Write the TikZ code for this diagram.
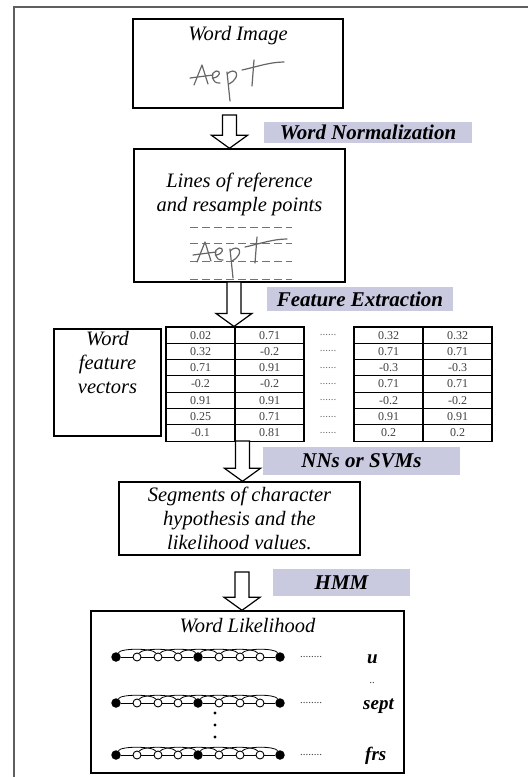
\documentclass[tikz,border=0pt]{standalone}
\usepackage{fontspec}
\setmainfont{Liberation Serif}
\usetikzlibrary{positioning, calc}

\definecolor{steplav}{RGB}{201,201,224}
\definecolor{framegray}{RGB}{95,95,95}

\tikzset{
  box/.style={draw, line width=1.4pt, inner sep=0pt},
  caption/.style={font=\fontsize{20.5}{24}\selectfont\itshape, inner sep=1pt, align=center},
  stagelabel/.style={fill=steplav, font=\fontsize{21}{24}\selectfont\bfseries\itshape, inner sep=0pt},
  cell/.style={draw, line width=1.1pt, minimum width=69pt, minimum height=16.3pt,
    inner sep=0pt, font=\fontsize{12}{13}\selectfont, text=black!75},
  gap/.style={font=\fontsize{11}{12}\selectfont, text=black!55, inner sep=1pt},
  wordlab/.style={font=\fontsize{19}{22}\selectfont\bfseries\itshape, inner sep=0pt},
  hmmstate/.style={circle, fill=black, minimum size=9.5pt, inner sep=0pt},
  hmmhid/.style={circle, draw, line width=0.9pt, fill=white, minimum size=8pt, inner sep=0pt},
  hmmedge/.style={line width=0.8pt},
  blockarrow/.style={draw, line width=1.2pt, fill=white},
  ink/.style={line width=1.2pt, black!60, line cap=round, line join=round},
  guide/.style={line width=0.9pt, black!55, dash pattern=on 8pt off 4pt},
  % handwritten word
  scrawl/.pic={
    \draw[ink] (-44,10) -- (-36,-10) -- (-30,9);
    \draw[ink] (-48,3) -- (-25,0);
    \draw[ink] (-25,3) .. controls (-17,2) and (-17,-5) .. (-22,-4)
      .. controls (-28,-3) and (-27,9) .. (-18,8);
    \draw[ink] (-11,-3) -- (-8,26);
    \draw[ink] (-11,-1) .. controls (-3,-9) and (5,1) .. (-9,9);
    \draw[ink] (16,-15) -- (14,11);
    \draw[ink] (4,-5) .. controls (18,-8) and (32,-13) .. (46,-13);
  },
  % left-to-right model chain
  chain/.pic={
    \foreach \i/\x in {0/0,4/82,8/164}
      \node[hmmstate] (-s\i) at (\x,0) {};
    \foreach \i/\x in {1/21,2/42,3/62,5/103,6/124,7/144}
      \node[hmmhid] (-s\i) at (\x,0) {};
    \foreach \a [evaluate=\a as \b using int(\a+1)] in {0,...,7}
      \draw[hmmedge] (-s\a) -- (-s\b);
    \foreach \a [evaluate=\a as \b using int(\a+2)] in {0,...,6}
      \draw[hmmedge] (-s\a) .. controls +(5,-9) and +(-5,-9) .. (-s\b);
  }
}

\newcommand{\hollowarrow}[2]{%
  \draw[blockarrow] let \p1=(#1), \p2=(#2) in
    (\x1-7pt,\y1) -- (\x1+7pt,\y1) -- (\x1+7pt,\y2+13pt) -- (\x1+18pt,\y2+13pt)
    -- (\x1,\y2) -- (\x1-18pt,\y2+13pt) -- (\x1-7pt,\y2+13pt) -- cycle;}

\begin{document}
\begin{tikzpicture}[x=1pt, y=-1pt]
  \useasboundingbox (0,0) rectangle (528,777);
  \draw[framegray, line width=1.5pt] (14,777) -- (14,7) -- (528,7);

  % Word image
  \node[box, minimum width=210pt, minimum height=89pt] (img) at (238,63.5) {};
  \node[caption, below=7pt of img.north] (imgtitle) {Word Image};
  \pic at (238,75) {scrawl};

  % Normalized word
  \node[box, minimum width=211pt, minimum height=133pt] (lines) at (239.5,215.5) {};
  \node[caption, below=24pt of lines.north] (linestitle) {Lines of reference\\and resample points};
  \foreach \yy in {227,243,261,279}
    \draw[guide] (190,\yy) -- (292,\yy);
  \pic at (241,252) {scrawl};

  % Feature vectors
  \node[box, minimum width=107pt, minimum height=107pt] (feat) at (107.5,382.5) {};
  \node[caption, below=2pt of feat.north] (feattitle) {Word\\feature\\vectors};

  \foreach \a/\b/\c/\d [count=\r] in {0.02/0.71/0.32/0.32, 0.32/-0.2/0.71/0.71,
      0.71/0.91/-0.3/-0.3, -0.2/-0.2/0.71/0.71, 0.91/0.91/-0.2/-0.2,
      0.25/0.71/0.91/0.91, -0.1/0.81/0.2/0.2} {
    \node[cell] (L\r a) at (200.5,{318.85+16.3*\r}) {\a};
    \node[cell] (L\r b) at (269.5,{318.85+16.3*\r}) {\b};
    \node[gap] (g\r) at (328,{318.85+16.3*\r}) {......};
    \node[cell] (R\r a) at (388.5,{318.85+16.3*\r}) {\c};
    \node[cell] (R\r b) at (457.5,{318.85+16.3*\r}) {\d};
  }

  % Segments
  \node[box, caption, inner sep=0pt, minimum width=241pt, minimum height=73pt] (seg)
    at (239.5,518.5) {Segments of character\\hypothesis and the\\likelihood values.};

  % Word likelihood
  \node[box, minimum width=313pt, minimum height=162pt] (lik) at (247.5,692) {};
  \node[caption, below=7pt of lik.north] (liktitle) {Word Likelihood};

  \pic (r1) at (116,657) {chain};
  \pic (r2) at (116,703) {chain};
  \pic (r3) at (116,755) {chain};

  \node[gap, text=black!75, right=14pt of r1-s8] (d1) {........};
  \node[gap, text=black!75, right=14pt of r2-s8] (d2) {........};
  \node[gap, text=black!75, right=14pt of r3-s8] (d3) {........};
  \node[wordlab, anchor=base west] (w1) at (367,663) {u};
  \node[wordlab, anchor=base west] (w2) at (363,709) {sept};
  \node[wordlab, anchor=base west] (w3) at (365,760) {frs};
  \node[gap, text=black!75, inner sep=0pt] (w1gap) at (372,683) {..};
  \foreach \yy in {713,725,737}
    \fill (215,\yy) circle (1.6pt);

  % Stage labels
  \node[stagelabel, minimum width=208pt, minimum height=21pt] (norm) at (368,132.5) {Word Normalization};
  \node[stagelabel, minimum width=186pt, minimum height=24pt] (extr) at (360,299) {Feature Extraction};
  \node[stagelabel, minimum width=197pt, minimum height=28pt] (nns) at (361.5,461) {NNs or SVMs};
  \node[stagelabel, minimum width=137pt, minimum height=27pt] (hmm) at (341.5,582.5) {HMM};

  % Arrows
  \coordinate (a1top) at (229.5,115);
  \coordinate (a2top) at (234,282);
  \coordinate (a3top) at (242.5,441);
  \coordinate (a4top) at (242,572);
  \hollowarrow{a1top}{lines.north}
  \hollowarrow{a2top}{L1a.north}
  \hollowarrow{a3top}{seg.north}
  \hollowarrow{a4top}{lik.north}
\end{tikzpicture}
\end{document}
